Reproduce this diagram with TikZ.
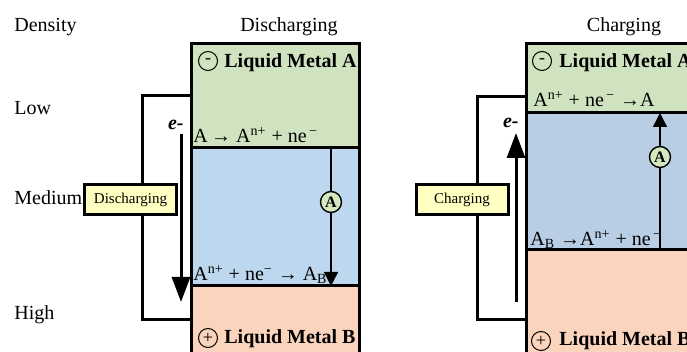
\documentclass[tikz,border=0pt]{standalone}
\usepackage{fontspec}
\setmainfont{Liberation Serif}
\usetikzlibrary{arrows.meta}

\definecolor{metalA}{RGB}{208,227,192}
\definecolor{saltL}{RGB}{189,215,238}
\definecolor{saltR}{RGB}{185,205,228}
\definecolor{metalB}{RGB}{250,212,188}
\definecolor{modeY}{RGB}{255,255,194}
\definecolor{ionA}{RGB}{212,233,190}

\begin{document}
\begin{tikzpicture}[x=0.5pt, y=-0.5pt, font=\fontsize{10}{12}\selectfont,
    txt/.style={inner sep=0pt},
    thickline/.style={line width=1.5pt},
    ionpath/.style={line width=0.75pt, -{Triangle[length=7pt,width=7pt]}},
    epath/.style={line width=1.5pt, -{Triangle[length=12.5pt,width=9pt]}},
    modebox/.style={draw, line width=1.5pt, fill=modeY, minimum width=46pt,
        minimum height=15pt, inner sep=0pt, font=\fontsize{7.5}{9}\selectfont},
    ion/.style={circle, draw, line width=0.7pt, fill=ionA, inner sep=0pt,
        minimum size=10.5pt, font=\fontsize{8}{8}\selectfont\bfseries},
    sign/.style={circle, draw, line width=0.5pt, inner sep=0pt,
        minimum size=9.5pt, font=\fontsize{9}{9}\selectfont}]
    \useasboundingbox (0,0) rectangle (687,352);

    % Label kerapatan
    \foreach \lbl/\yy in {Density/32, Low/115, Medium/205, High/320} {
        \node[txt, anchor=base west] (d-\lbl) at (14,\yy) {\lbl};
    }

    % ---------------- Discharging ----------------
    \node[txt, anchor=base] (tDis) at (289,32) {Discharging};

    % Lapisan sel
    \fill[metalA] (191,44) rectangle (359,148);
    \fill[saltL]  (191,148) rectangle (359,286);
    \fill[metalB] (191,286) rectangle (359,360);

    % Kabel luar
    \coordinate (disTop) at (191,96);
    \coordinate (disBot) at (191,320);
    \draw[thickline] (disTop) -- ++(-49,0) |- (disBot);
    \node[modebox] (dis) at (130.5,199.5) {Discharging};

    % Aliran elektron
    \coordinate (disE1) at (181,134);
    \coordinate (disE2) at (181,302);
    \draw[epath] (disE1) -- (disE2);
    \node[txt, anchor=base east, font=\bfseries\itshape] (eDis) at (184,130) {e-};

    % Aliran ion
    \coordinate (disI1) at (331,148);
    \coordinate (disI2) at (331,286);
    \draw[ionpath] (disI1) -- (disI2);
    \node[ion] (ionDis) at (331,202) {A};

    % Garis batas
    \draw[thickline] (191,360) -- (191,44) -- (359,44) -- (359,360);
    \draw[thickline] (191,148) -- (359,148);
    \draw[thickline] (191,286) -- (359,286);

    % Reaksi
    \node[txt, anchor=base west] (rDis1) at (193,143)
        {A\,→ A\textsuperscript{n+} + ne\textsuperscript{\,−}};
    \node[txt, anchor=base west] (rDis2) at (193,281)
        {A\textsuperscript{n+} + ne\textsuperscript{−} → A\textsubscript{B}};

    % Elektroda
    \node[sign] (sDisA) at (208,61) {-};
    \node[txt, anchor=base west, font=\bfseries] (mDisA) at (224,68) {Liquid Metal A};
    \node[sign] (sDisB) at (208,338) {+};
    \node[txt, anchor=base west, font=\bfseries] (mDisB) at (224,344) {Liquid Metal B};

    % ---------------- Charging ----------------
    \node[txt, anchor=base] (tCha) at (624,32) {Charging};

    % Lapisan sel
    \fill[metalA] (526,44) rectangle (700,113);
    \fill[saltR]  (526,113) rectangle (700,250);
    \fill[metalB] (526,250) rectangle (700,360);

    % Kabel luar
    \coordinate (chaTop) at (526,97);
    \coordinate (chaBot) at (526,320);
    \draw[thickline] (chaTop) -- ++(-49,0) |- (chaBot);
    \node[modebox] (cha) at (462,199.5) {Charging};

    % Aliran elektron
    \coordinate (chaE1) at (516,302);
    \coordinate (chaE2) at (516,133);
    \draw[epath] (chaE1) -- (chaE2);
    \node[txt, anchor=base east, font=\bfseries\itshape] (eCha) at (519,128) {e-};

    % Aliran ion
    \coordinate (chaI1) at (660,250);
    \coordinate (chaI2) at (660,113);
    \draw[ionpath] (chaI1) -- (chaI2);
    \node[ion] (ionCha) at (660,157) {A};

    % Garis batas
    \draw[thickline] (526,360) -- (526,44) -- (700,44);
    \draw[thickline] (526,113) -- (700,113);
    \draw[thickline] (526,250) -- (700,250);

    % Reaksi
    \node[txt, anchor=base west] (rCha1) at (533,107)
        {A\textsuperscript{n+} + ne\textsuperscript{\,−} →A};
    \node[txt, anchor=base west] (rCha2) at (530,246)
        {A\textsubscript{B} →A\textsuperscript{n+} + ne\textsuperscript{\,−}};

    % Elektroda
    \node[sign] (sChaA) at (542,61) {-};
    \node[txt, anchor=base west, font=\bfseries] (mChaA) at (559,68) {Liquid Metal A};
    \node[sign] (sChaB) at (541,341) {+};
    \node[txt, anchor=base west, font=\bfseries] (mChaB) at (559,346) {Liquid Metal B};
\end{tikzpicture}
\end{document}
